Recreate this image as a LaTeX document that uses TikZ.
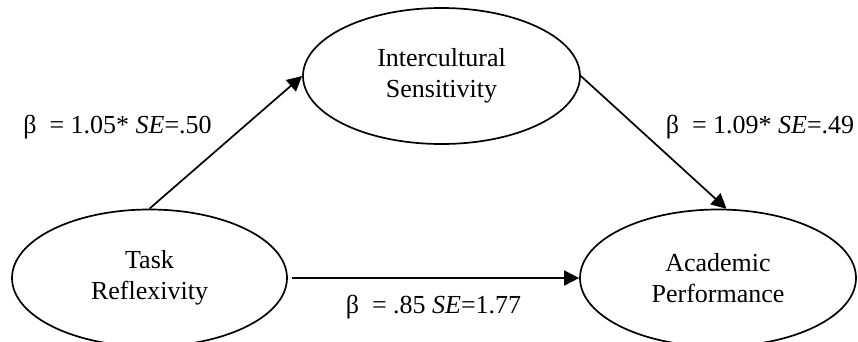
\documentclass[tikz,border=0pt]{standalone}
\usepackage{fontspec}
\setmainfont{Liberation Serif}
\usetikzlibrary{shapes.geometric,arrows.meta}
\begin{document}
\begin{tikzpicture}[x=1pt,y=-1pt,
  latent/.style={ellipse,draw,line width=1.7pt,inner sep=0pt,align=center,
    font=\fontsize{26}{31}\selectfont},
  coef/.style={inner sep=0pt,anchor=base,font=\fontsize{26}{31}\selectfont},
  path/.style={line width=1.7pt,-{Triangle[length=15pt,width=15pt]}}]
\useasboundingbox (0,0) rectangle (858,341);
\node[latent,minimum width=277pt,minimum height=136pt] (inter) at (441.5,76) {Intercultural\\Sensitivity};
\node[latent,minimum width=275pt,minimum height=137pt] (task) at (149.5,278) {Task\\Reflexivity};
\node[latent,minimum width=276pt,minimum height=137pt] (acad) at (718,278) {Academic\\Performance};
\draw[path] (task.north) -- (inter.west);
\draw[path] (inter.east) -- (acad.83);
\draw[path,shorten <=4pt] (task.east) -- (acad.west);
\node[coef] (l1) at (117.5,133) {β~~= 1.05* \textit{SE}=.50};
\node[coef] (l2) at (760,133) {β~~= 1.09* \textit{SE}=.49};
\node[coef] (l3) at (433.5,313) {β~~= .85 \textit{SE}=1.77};
\end{tikzpicture}
\end{document}
